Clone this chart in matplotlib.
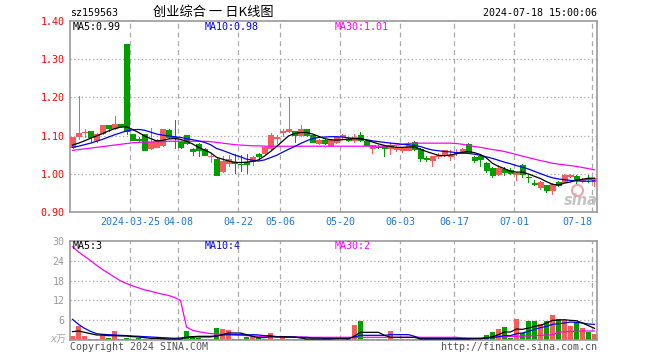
import numpy as np
import pandas as pd
import matplotlib
matplotlib.use("Agg")
import matplotlib.pyplot as plt
from matplotlib.transforms import blended_transform_factory

plt.rcParams['font.family'] = ['DejaVu Sans Mono', 'Noto Sans CJK SC']

# ── 数据 ──────────────────────────────────────────────────────────
holidays = ['2024-04-04', '2024-04-05', '2024-05-01', '2024-05-02',
            '2024-05-03', '2024-06-10']
dates = pd.bdate_range('2024-03-11', '2024-07-18', freq='C', holidays=holidays)

open_ = [1.070, 1.099, 1.108, 1.111, 1.088, 1.107, 1.127, 1.120, 1.130, 1.340,
         1.103, 1.091, 1.103, 1.066, 1.071, 1.074, 1.114, 1.096, 1.083, 1.101,
         1.064, 1.079, 1.064, 1.045, 1.038, 1.006, 1.029, 1.031, 1.026, 1.030,
         1.032, 1.052, 1.054, 1.068, 1.093, 1.109, 1.112, 1.111, 1.101, 1.116,
         1.101, 1.080, 1.089, 1.076, 1.083, 1.100, 1.090, 1.089, 1.101, 1.086,
         1.066, 1.071, 1.072, 1.066, 1.064, 1.063, 1.063, 1.083, 1.065, 1.040,
         1.035, 1.046, 1.048, 1.047, 1.055, 1.055, 1.079, 1.044, 1.047, 1.028,
         1.016, 0.998, 1.013, 1.009, 1.000, 1.022, 0.991, 0.975, 0.965, 0.969,
         0.956, 0.978, 0.978, 0.994, 0.995, 0.984, 0.988, 0.980]
high = [1.097, 1.203, 1.116, 1.112, 1.106, 1.128, 1.128, 1.151, 1.131, 1.340,
        1.105, 1.095, 1.104, 1.121, 1.092, 1.118, 1.116, 1.142, 1.085, 1.102,
        1.066, 1.081, 1.066, 1.052, 1.040, 1.045, 1.048, 1.052, 1.050, 1.052,
        1.045, 1.054, 1.072, 1.106, 1.102, 1.118, 1.202, 1.112, 1.127, 1.117,
        1.102, 1.092, 1.091, 1.091, 1.097, 1.105, 1.094, 1.105, 1.108, 1.088,
        1.076, 1.074, 1.074, 1.083, 1.072, 1.071, 1.083, 1.085, 1.066, 1.047,
        1.047, 1.053, 1.062, 1.062, 1.064, 1.066, 1.080, 1.045, 1.048, 1.030,
        1.018, 1.022, 1.017, 1.016, 1.003, 1.024, 0.997, 0.984, 0.980, 0.970,
        0.975, 0.980, 0.999, 1.000, 0.996, 0.988, 0.996, 0.989]
low = [1.067, 1.092, 1.096, 1.083, 1.083, 1.105, 1.112, 1.118, 1.123, 1.105,
       1.087, 1.085, 1.061, 1.064, 1.069, 1.072, 1.094, 1.068, 1.068, 1.078,
       1.048, 1.047, 1.048, 1.031, 0.996, 1.004, 1.020, 1.002, 1.006, 1.002,
       1.022, 1.040, 1.052, 1.062, 1.080, 1.100, 1.108, 1.083, 1.100, 1.100,
       1.082, 1.078, 1.078, 1.072, 1.080, 1.094, 1.085, 1.084, 1.086, 1.074,
       1.055, 1.066, 1.046, 1.052, 1.060, 1.058, 1.061, 1.063, 1.034, 1.032,
       1.020, 1.041, 1.046, 1.036, 1.049, 1.053, 1.056, 1.031, 1.020, 1.004,
       0.990, 0.997, 0.997, 0.998, 0.984, 0.990, 0.978, 0.969, 0.960, 0.951,
       0.947, 0.968, 0.977, 0.991, 0.976, 0.978, 0.978, 0.967]
close = [1.096, 1.107, 1.110, 1.096, 1.105, 1.127, 1.120, 1.130, 1.125, 1.112,
         1.089, 1.089, 1.063, 1.083, 1.089, 1.116, 1.096, 1.093, 1.070, 1.081,
         1.060, 1.061, 1.048, 1.047, 0.997, 1.032, 1.039, 1.028, 1.025, 1.026,
         1.044, 1.045, 1.070, 1.101, 1.095, 1.111, 1.116, 1.102, 1.116, 1.101,
         1.083, 1.089, 1.080, 1.089, 1.096, 1.101, 1.089, 1.096, 1.088, 1.076,
         1.074, 1.070, 1.068, 1.074, 1.066, 1.070, 1.076, 1.065, 1.042, 1.039,
         1.046, 1.049, 1.061, 1.049, 1.057, 1.064, 1.057, 1.035, 1.038, 1.010,
         0.996, 1.016, 1.004, 1.002, 1.001, 0.998, 0.990, 0.974, 0.978, 0.956,
         0.974, 0.969, 0.997, 0.996, 0.982, 0.985, 0.986, 0.988]

ma5 = [1.075, 1.080, 1.086, 1.093, 1.099, 1.105, 1.112, 1.118, 1.122, 1.123,
       1.116, 1.108, 1.099, 1.092, 1.086, 1.087, 1.091, 1.092, 1.090, 1.085,
       1.078, 1.069, 1.062, 1.055, 1.043, 1.038, 1.033, 1.030, 1.029, 1.030,
       1.032, 1.036, 1.046, 1.058, 1.071, 1.085, 1.099, 1.105, 1.108, 1.108,
       1.104, 1.098, 1.092, 1.089, 1.088, 1.089, 1.091, 1.092, 1.092, 1.088,
       1.083, 1.078, 1.074, 1.071, 1.069, 1.069, 1.070, 1.070, 1.064, 1.058,
       1.053, 1.048, 1.047, 1.049, 1.052, 1.056, 1.058, 1.055, 1.050, 1.041,
       1.027, 1.019, 1.013, 1.006, 1.004, 1.004, 0.999, 0.993, 0.987, 0.979,
       0.972, 0.970, 0.975, 0.978, 0.983, 0.985, 0.988, 0.988]
ma10 = [1.069, 1.072, 1.076, 1.080, 1.085, 1.090, 1.096, 1.102, 1.107, 1.112,
        1.115, 1.116, 1.114, 1.109, 1.104, 1.101, 1.099, 1.097, 1.095, 1.092,
        1.089, 1.086, 1.082, 1.076, 1.066, 1.061, 1.055, 1.049, 1.044, 1.038,
        1.035, 1.033, 1.036, 1.042, 1.048, 1.056, 1.064, 1.071, 1.079, 1.086,
        1.092, 1.095, 1.096, 1.097, 1.097, 1.096, 1.094, 1.092, 1.091, 1.089,
        1.086, 1.084, 1.082, 1.080, 1.079, 1.077, 1.076, 1.074, 1.071, 1.066,
        1.062, 1.060, 1.058, 1.057, 1.055, 1.054, 1.053, 1.051, 1.048, 1.044,
        1.040, 1.035, 1.030, 1.026, 1.021, 1.017, 1.012, 1.006, 1.000, 0.994,
        0.989, 0.986, 0.984, 0.982, 0.981, 0.980, 0.980, 0.981]
ma30 = [1.061, 1.063, 1.065, 1.067, 1.069, 1.071, 1.073, 1.075, 1.077, 1.079,
        1.081, 1.082, 1.083, 1.083, 1.084, 1.084, 1.085, 1.085, 1.085, 1.085,
        1.085, 1.085, 1.085, 1.084, 1.082, 1.080, 1.078, 1.076, 1.075, 1.074,
        1.073, 1.073, 1.072, 1.072, 1.072, 1.072, 1.072, 1.072, 1.072, 1.072,
        1.072, 1.072, 1.072, 1.072, 1.072, 1.072, 1.072, 1.072, 1.072, 1.072,
        1.072, 1.072, 1.072, 1.073, 1.075, 1.077, 1.079, 1.080, 1.080, 1.080,
        1.080, 1.080, 1.080, 1.080, 1.079, 1.077, 1.074, 1.071, 1.069, 1.066,
        1.063, 1.061, 1.058, 1.054, 1.050, 1.046, 1.042, 1.038, 1.034, 1.031,
        1.027, 1.025, 1.023, 1.021, 1.019, 1.016, 1.013, 1.010]

# 成交量（万）
volume = [1.3, 4.3, 1.3, 0.4, 0.5, 1.6, 0.8, 2.9, 0.5, 0.8,
          0.4, 0.8, 0.4, 0.5, 0.4, 0.4, 0.3, 0.5, 0.4, 2.9,
          1.3, 0.8, 0.5, 0.4, 3.8, 3.3, 3.1, 0.4, 0.4, 1.0,
          1.3, 0.8, 0.4, 2.2, 0.4, 1.4, 0.5, 0.4, 0.4, 0.4,
          0.5, 0.4, 0.4, 0.5, 0.5, 0.4, 0.4, 4.6, 5.9, 0.5,
          0.4, 0.5, 0.4, 2.8, 0.4, 0.5, 0.4, 0.4, 0.5, 0.4,
          0.4, 0.4, 0.5, 0.4, 0.4, 0.5, 0.4, 0.5, 0.6, 1.6,
          2.6, 3.4, 4.1, 0.6, 6.4, 2.1, 5.9, 5.9, 4.9, 5.9,
          7.6, 6.3, 6.1, 4.3, 5.4, 3.8, 2.6, 1.9]
vma5 = [2.6, 2.8, 2.4, 2.0, 1.6, 1.6, 1.4, 1.4, 1.3, 1.3,
        1.1, 1.0, 0.8, 0.6, 0.6, 0.5, 0.4, 0.4, 0.4, 0.9,
        1.1, 1.2, 1.2, 1.2, 1.3, 1.7, 2.2, 2.2, 2.2, 1.7,
        1.2, 0.8, 0.8, 1.1, 1.0, 1.1, 1.0, 1.0, 0.7, 0.4,
        0.4, 0.4, 0.4, 0.4, 0.5, 0.5, 0.4, 1.3, 2.4, 2.4,
        2.4, 2.4, 1.5, 0.9, 0.9, 0.9, 0.9, 0.9, 0.4, 0.4,
        0.4, 0.4, 0.4, 0.4, 0.4, 0.4, 0.4, 0.5, 0.5, 0.7,
        1.1, 1.7, 2.5, 2.5, 3.4, 3.3, 3.7, 4.2, 4.5, 5.2,
        6.0, 6.1, 6.2, 6.0, 5.9, 5.2, 4.4, 3.6]
vma10 = [6.3, 4.8, 3.6, 2.7, 2.0, 1.8, 1.7, 1.6, 1.5, 1.4,
         1.3, 1.2, 1.1, 1.0, 0.9, 0.8, 0.7, 0.6, 0.7, 0.9,
         1.0, 1.0, 1.0, 1.0, 1.3, 1.6, 1.7, 1.7, 1.7, 1.6,
         1.7, 1.6, 1.4, 1.4, 1.1, 1.0, 1.0, 0.9, 0.9, 0.9,
         0.7, 0.7, 0.6, 0.6, 0.6, 0.6, 0.6, 1.0, 1.5, 1.5,
         1.5, 1.5, 1.5, 1.7, 1.7, 1.7, 1.7, 1.2, 0.6, 0.6,
         0.6, 0.6, 0.6, 0.6, 0.6, 0.6, 0.6, 0.6, 0.6, 0.7,
         0.8, 1.1, 1.4, 1.4, 2.0, 2.2, 2.7, 3.3, 3.8, 4.2,
         4.8, 5.0, 5.2, 5.5, 5.4, 5.2, 4.9, 4.8]
vma30 = [28.2, 26.6, 25.3, 24.0, 22.6, 21.3, 20.2, 19.0, 17.9, 17.1,
         16.4, 15.8, 15.2, 14.8, 14.3, 13.9, 13.5, 12.9, 12.0, 4.0,
         3.0, 2.6, 2.3, 2.0, 1.9, 1.8, 1.7, 1.6, 1.5, 1.4,
         1.3, 1.2, 1.1, 1.1, 1.1, 1.0, 1.0, 1.0, 1.0, 0.9,
         0.9, 0.9, 0.9, 0.9, 0.9, 0.9, 0.9, 0.9, 0.9, 0.9,
         0.9, 0.9, 0.9, 0.9, 0.9, 0.9, 0.9, 0.9, 0.9, 0.9,
         0.9, 0.9, 0.9, 0.9, 0.9, 0.7, 0.6, 0.6, 0.6, 0.7,
         1.0, 1.1, 1.1, 1.2, 1.2, 1.3, 1.3, 1.4, 1.5, 1.6,
         1.6, 2.4, 2.6, 2.7, 2.7, 2.8, 2.8, 2.8]

tick_dates = ['2024-03-25', '2024-04-08', '2024-04-22', '2024-05-06', '2024-05-20',
              '2024-06-03', '2024-06-17', '2024-07-01', '2024-07-18']
tick_labels = ['2024-03-25', '04-08', '04-22', '05-06', '05-20',
               '06-03', '06-17', '07-01', '07-18']
price_ticks = [0.90, 1.00, 1.10, 1.20, 1.30, 1.40]
vol_ticks = [6, 12, 18, 24, 30]

# ── 样式 ──────────────────────────────────────────────────────────
RED = '#f65c5c'
GREEN = '#009f00'
GRID = '#aaaaaa'
FRAME = '#999999'
W, H = 660, 360

o = np.array(open_)
c = np.array(close)
x = np.arange(len(dates))
up = c >= o
colors = np.where(up, RED, GREEN)
grid_x = [dates.get_loc(pd.Timestamp(d)) - 0.42 for d in tick_dates]

fig = plt.figure(figsize=(W / 100, H / 100), dpi=100)
ax1 = fig.add_axes([70 / W, 1 - 211.7 / H, 527 / W, 190.4 / H])
ax2 = fig.add_axes([70 / W, 1 - 340.3 / H, 527 / W, 99.6 / H])

for ax in (ax1, ax2):
    ax.set_xlim(-0.42, len(x) - 0.58)
    for s in ax.spines.values():
        s.set_color(FRAME)
        s.set_linewidth(1.2)
    for gx in grid_x:
        ax.axvline(gx, color=GRID, lw=0.9, ls=(0, (4, 3)), zorder=0)
    ax.set_xticks([])
    ax.tick_params(axis='y', length=0, pad=4, labelsize=7.2)

# 价格 K 线
ax1.set_ylim(0.90, 1.40)
for gy in price_ticks[1:-1]:
    ax1.axhline(gy, color=GRID, lw=0.9, ls=(0, (1, 2)), zorder=0)
ax1.vlines(x, low, high, colors=colors, lw=0.72, zorder=2, antialiased=False)
body_h = np.maximum(np.abs(c - o), 0.0012)
ax1.bar(x, body_h, bottom=np.minimum(o, c), width=0.8, color=colors,
        edgecolor=colors, linewidth=0.4, zorder=3, antialiased=False)
ax1.plot(x, ma30, color='#ff00ff', lw=0.9, zorder=4)
ax1.plot(x, ma10, color='#0000ff', lw=0.9, zorder=4)
ax1.plot(x, ma5, color='black', lw=0.9, zorder=5)
ax1.set_yticks(price_ticks)
ax1.set_yticklabels([f'{t:.2f}' for t in price_ticks])
for lab in ax1.get_yticklabels():
    lab.set_color('#ff0000')

trans = blended_transform_factory(ax1.transData, fig.transFigure)
for i, (gx, lab) in enumerate(zip(grid_x, tick_labels)):
    ha = 'right' if i == len(tick_labels) - 1 else 'center'
    ax1.text(gx, 1 - 222 / H, lab, transform=trans, ha=ha, va='center',
             size=7.2, color='#1e78d8')

# sina 水印
ax1.plot([0.962], [0.112], marker='o', ms=8, mfc='none', mec='#f3a5a5',
         mew=1.5, transform=ax1.transAxes, zorder=1)
ax1.text(0.938, 0.058, 'sina', transform=ax1.transAxes, fontsize=10.5,
         fontweight='bold', style='italic', color='#b5b5b5', alpha=0.8,
         family='DejaVu Sans', ha='left', va='center', zorder=1)

# 成交量
ax2.set_ylim(0, 30)
for gy in vol_ticks[:-1]:
    ax2.axhline(gy, color=GRID, lw=0.9, ls=(0, (1, 2)), zorder=0)
ax2.bar(x, volume, width=0.8, color=colors, zorder=2, antialiased=False)
ax2.plot(x, vma30, color='#ff00ff', lw=0.9, zorder=4)
ax2.plot(x, vma10, color='#0000ff', lw=0.9, zorder=4)
ax2.plot(x, vma5, color='black', lw=0.9, zorder=5)
ax2.set_yticks(vol_ticks)
ax2.set_yticklabels([str(t) for t in vol_ticks], color='#999999')

# 文字
def ftext(px, py, s, **kw):
    kw.setdefault('size', 7.2)
    kw.setdefault('va', 'center')
    fig.text(px / W, 1 - py / H, s, **kw)

ftext(70, 12.5, 'sz159563')
ftext(213, 12.5, '创业综合 一 日K线图', ha='center', size=9.5,
      family=['Noto Sans CJK SC', 'DejaVu Sans'])
ftext(597, 12.5, '2024-07-18 15:00:06', ha='right')
ftext(73, 26.5, 'MA5:0.99', color='black')
ftext(205, 26.5, 'MA10:0.98', color='#0000ff')
ftext(335, 26.5, 'MA30:1.01', color='#ff00ff')
ftext(73, 246, 'MA5:3', color='black')
ftext(205, 246, 'MA10:4', color='#0000ff')
ftext(335, 246, 'MA30:2', color='#ff00ff')
ftext(66, 339, 'x万', ha='right', color='#aaaaaa', style='italic')
ftext(70, 347, 'Copyright 2024 SINA.COM', color='#555555')
ftext(597, 347, 'http://finance.sina.com.cn', ha='right', color='#555555')

fig.savefig('out.png', dpi=100)
